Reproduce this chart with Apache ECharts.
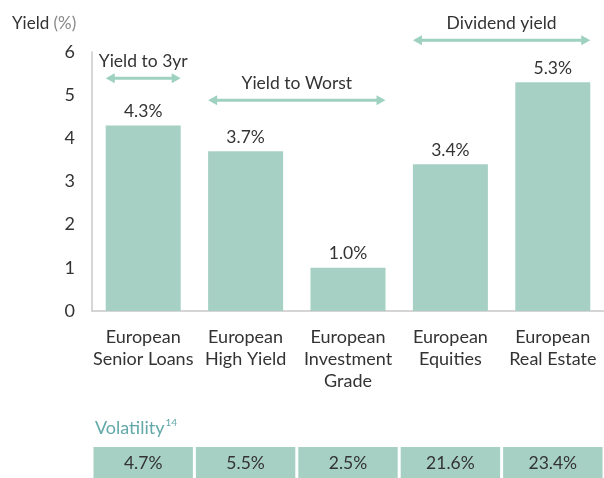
<!DOCTYPE html>
<html>
<head>
<meta charset="utf-8">
<script src="https://cdn.jsdelivr.net/npm/echarts@6/dist/echarts.min.js"></script>
<style>
  html, body { margin: 0; padding: 0; background: #fff; }
  #chart { width: 604px; height: 478px; }
</style>
</head>
<body>
<div id="chart"></div>
<script>
const categories = ['European\nSenior Loans', 'European\nHigh Yield', 'European\nInvestment\nGrade', 'European\nEquities', 'European\nReal Estate'];
const yieldValues = [4.3, 3.7, 1.0, 3.4, 5.3];
const volatility = [4.7, 5.5, 2.5, 21.6, 23.4];
const yTicks = [0, 1, 2, 3, 4, 5, 6];
// brackets: label, first and last category index
const bracketLabels = ['Yield to 3yr', 'Yield to Worst', 'Dividend yield'];
const bracketFrom = [0, 1, 3];
const bracketTo = [0, 2, 4];

// vertical level of each bracket arrow, in axis units
const bracketLevel = [5.39, 4.88, 6.27];

const barColor = '#a7d0c4';
const arrowColor = '#9fd1c1';
const textColor = '#333';
const font = 'Lato, "Noto Sans", sans-serif';

const chart = echarts.init(document.getElementById('chart'));

chart.setOption({
  animation: false,
  textStyle: { fontFamily: font },
  title: [
    {
      text: '{a|Yield} {b|(%)}',
      left: 7, top: 10,
      textStyle: {
        rich: {
          a: { fontSize: 17, color: textColor, fontFamily: font, fontWeight: 'normal' },
          b: { fontSize: 17, color: '#888', fontFamily: font, fontWeight: 'normal' }
        }
      }
    },
    {
      text: '{a|Volatility}{s|14}',
      left: 90, top: 413,
      textStyle: {
        rich: {
          a: { fontSize: 18, color: '#62a8a8', fontFamily: font, fontWeight: 'normal' },
          s: { fontSize: 10, color: '#62a8a8', fontFamily: font, fontWeight: 'normal', verticalAlign: 'top', padding: [0, 0, 10, 1] }
        }
      }
    }
  ],
  grid: [
    { left: 92, right: 0, top: 52, height: 259 },
    { left: 92, right: 0, top: 447, height: 31 }
  ],
  xAxis: [
    {
      type: 'category',
      data: categories,
      gridIndex: 0,
      axisLine: { lineStyle: { color: '#c8c8c8', width: 1.5 } },
      axisTick: { show: false },
      axisLabel: { color: textColor, fontSize: 18, lineHeight: 22, margin: 15, interval: 0, fontFamily: font }
    },
    {
      type: 'category',
      data: categories,
      gridIndex: 1,
      show: false
    }
  ],
  yAxis: [
    {
      type: 'value',
      gridIndex: 0,
      min: yTicks[0],
      max: yTicks[yTicks.length - 1],
      interval: 1,
      axisLine: { show: true, lineStyle: { color: '#c8c8c8', width: 1.5 } },
      axisTick: { show: false },
      splitLine: { show: false },
      axisLabel: { color: textColor, fontSize: 18, margin: 17, fontFamily: font }
    },
    {
      type: 'value',
      gridIndex: 1,
      min: 0, max: 1,
      show: false
    }
  ],
  series: [
    {
      type: 'bar',
      xAxisIndex: 0, yAxisIndex: 0,
      data: yieldValues,
      barWidth: 75,
      itemStyle: { color: barColor },
      label: {
        show: true,
        position: 'top',
        distance: 5,
        color: textColor,
        fontSize: 17.5,
        fontFamily: font,
        formatter: p => p.value.toFixed(1) + '%'
      }
    },
    {
      // bracket arrows above the bars
      type: 'custom',
      xAxisIndex: 0, yAxisIndex: 0,
      clip: false,
      silent: true,
      data: bracketLabels.map((l, i) => [bracketFrom[i], bracketTo[i], bracketLevel[i]]),
      renderItem: function (params, api) {
        const i = params.dataIndex;
        const band = api.size([1, 0])[0];
        const half = band * 0.366;
        const p1 = api.coord([api.value(0), api.value(2)]);
        const p2 = api.coord([api.value(1), api.value(2)]);
        const x1 = p1[0] - half, x2 = p2[0] + half, y = p1[1];
        const hl = 9, hh = 5;
        return {
          type: 'group',
          children: [
            { type: 'line', shape: { x1: x1 + 4, y1: y, x2: x2 - 4, y2: y }, style: { stroke: arrowColor, lineWidth: 3 } },
            { type: 'polygon', shape: { points: [[x1, y], [x1 + hl, y - hh], [x1 + hl, y + hh]] }, style: { fill: arrowColor } },
            { type: 'polygon', shape: { points: [[x2, y], [x2 - hl, y - hh], [x2 - hl, y + hh]] }, style: { fill: arrowColor } },
            {
              type: 'text',
              x: (x1 + x2) / 2, y: y - 8,
              style: {
                text: bracketLabels[i],
                fill: textColor,
                fontSize: 17.5,
                fontFamily: font,
                align: 'center',
                verticalAlign: 'bottom'
              }
            }
          ]
        };
      }
    },
    {
      // volatility row
      type: 'custom',
      xAxisIndex: 1, yAxisIndex: 1,
      silent: true,
      data: volatility.map((v, i) => [i, v]),
      renderItem: function (params, api) {
        const band = api.size([1, 0])[0];
        const c = api.coord([api.value(0), 0]);
        const cs = params.coordSys;
        return {
          type: 'group',
          children: [
            { type: 'rect', shape: { x: c[0] - band / 2 + 1.5, y: cs.y, width: band - 3, height: cs.height }, style: { fill: barColor } },
            {
              type: 'text',
              x: c[0], y: cs.y + cs.height / 2 + 1,
              style: {
                text: api.value(1).toFixed(1) + '%',
                fill: textColor,
                fontSize: 17.5,
                fontFamily: font,
                align: 'center',
                verticalAlign: 'middle'
              }
            }
          ]
        };
      }
    }
  ]
});
</script>
</body>
</html>
